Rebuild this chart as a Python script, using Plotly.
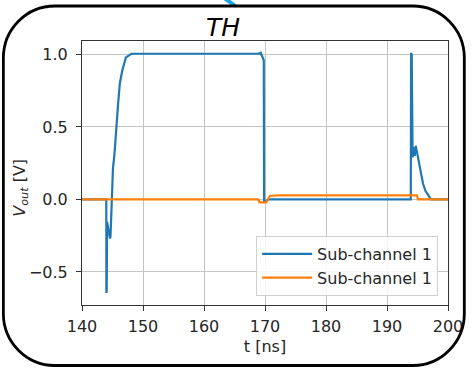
import plotly.graph_objects as go

# ---- data ----
t_blue = [140.0, 143.98, 144.0, 144.05, 144.12, 144.3, 144.6, 144.68, 144.95, 144.98,
          145.08, 145.3, 145.6, 145.9, 146.2, 146.6, 147.2, 148.1, 160.0, 168.9,
          169.3, 169.65, 169.8, 169.85, 170.2, 170.5, 193.9, 193.95, 194.05, 194.2,
          194.4, 194.55, 194.7, 194.9, 195.1, 195.35, 195.9, 196.3, 196.7, 197.2, 200.0]
v_blue = [0.0, 0.0, -0.645, -0.62, -0.155, -0.2, -0.27, -0.25, 0.0, 0.04,
          0.22, 0.3, 0.5, 0.65, 0.8, 0.89, 0.98, 1.005, 1.005, 1.005,
          1.012, 0.97, 0.96, -0.01, -0.01, 0.0, 0.0, 1.01, 1.0, 0.29,
          0.36, 0.3, 0.37, 0.33, 0.28, 0.22, 0.11, 0.06, 0.03, 0.0, 0.0]

t_orange = [140.0, 168.9, 169.1, 170.0, 170.2, 170.8, 172.0, 194.6, 194.9, 195.1, 200.0]
v_orange = [0.0, 0.0, -0.02, -0.02, -0.02, 0.024, 0.028, 0.028, 0.028, 0.0, 0.0]

series_names = ["Sub-channel 1", "Sub-channel 1"]
x_ticks = [140, 150, 160, 170, 180, 190, 200]
y_ticks = [-0.5, 0.0, 0.5, 1.0]

# ---- layout geometry (pixels) ----
W, H = 475, 368
PL, PR, PT, PB = 82, 452, 41, 305
FONT = "DejaVu Sans"
TXT = "#262626"


def px2paper(x, y):
    return (x - PL) / (PR - PL), (PB - y) / (PB - PT)


def rounded_rect_path(l, t, r, b, rad):
    k = 0.5523 * rad
    def P(x, y):
        X, Y = px2paper(x, y)
        return f"{X:.5f},{Y:.5f}"
    s = f"M {P(l + rad, t)} L {P(r - rad, t)} "
    s += f"C {P(r - rad + k, t)} {P(r, t + rad - k)} {P(r, t + rad)} "
    s += f"L {P(r, b - rad)} "
    s += f"C {P(r, b - rad + k)} {P(r - rad + k, b)} {P(r - rad, b)} "
    s += f"L {P(l + rad, b)} "
    s += f"C {P(l + rad - k, b)} {P(l, b - rad + k)} {P(l, b - rad)} "
    s += f"L {P(l, t + rad)} "
    s += f"C {P(l, t + rad - k)} {P(l + rad - k, t)} {P(l + rad, t)} Z"
    return s


fig = go.Figure()
fig.add_trace(go.Scatter(x=t_blue, y=v_blue, mode="lines", name=series_names[0],
                         line=dict(color="#1f77b4", width=2.2), legendgroup="a"))
fig.add_trace(go.Scatter(x=t_orange, y=v_orange, mode="lines", name=series_names[1],
                         line=dict(color="#ff7f0e", width=2.2), legendgroup="b"))

axis_common = dict(showline=True, mirror=True, linecolor="#333333", linewidth=1,
                   showgrid=True, gridcolor="#c4c4c4", gridwidth=1,
                   ticks="outside", ticklen=5, tickcolor="#333333", tickwidth=1,
                   zeroline=False, tickfont=dict(family=FONT, size=16, color=TXT))

fig.update_xaxes(range=[140, 200], tickvals=x_ticks, ticklabelstandoff=2,
                 title=dict(text="t [ns]", font=dict(family=FONT, size=16, color=TXT), standoff=5),
                 **axis_common)
fig.update_yaxes(range=[-0.728, 1.093], tickvals=y_ticks, tickformat=".1f", ticklabelstandoff=5,
                 **axis_common)

x_title, y_title = px2paper(225, 28)
ylab_x, ylab_y = px2paper(19, 188)
cy0 = px2paper(223, -4)
cy1 = px2paper(237, 6)

fig.update_layout(
    width=W, height=H,
    margin=dict(l=PL, r=W - PR, t=PT, b=H - PB),
    paper_bgcolor="white", plot_bgcolor="white",
    font=dict(family=FONT, color=TXT),
    showlegend=True,
    legend=dict(x=(442 - PL) / (PR - PL), y=(PB - 296) / (PB - PT),
                xanchor="right", yanchor="bottom",
                bgcolor="rgba(255,255,255,0.85)", bordercolor="#d0d0d0", borderwidth=1,
                font=dict(family=FONT, size=16, color=TXT), tracegroupgap=0,
                itemwidth=50),
    annotations=[
        dict(text="<i>TH</i>", x=x_title, y=y_title, xref="paper", yref="paper",
             showarrow=False, xanchor="center", yanchor="middle",
             font=dict(family=FONT, size=25, color="black")),
        dict(text="<i>V</i><sub><i>out</i></sub> [V]", x=ylab_x, y=ylab_y,
             xref="paper", yref="paper", showarrow=False, textangle=-90,
             xanchor="center", yanchor="middle",
             font=dict(family=FONT, size=16, color=TXT)),
    ],
    shapes=[
        dict(type="line", xref="paper", yref="paper", x0=cy0[0], y0=cy0[1], x1=cy1[0], y1=cy1[1],
             line=dict(color="#1ea3e8", width=4), layer="above"),
        dict(type="path", xref="paper", yref="paper",
             path=rounded_rect_path(2.5, 6, 468.5, 365.5, 52),
             line=dict(color="black", width=2.8), fillcolor="rgba(0,0,0,0)", layer="above"),
    ],
)

fig.write_html("out.html", config={"displayModeBar": False},
               post_script="document.body.style.margin='0';document.body.style.overflow='hidden';")
